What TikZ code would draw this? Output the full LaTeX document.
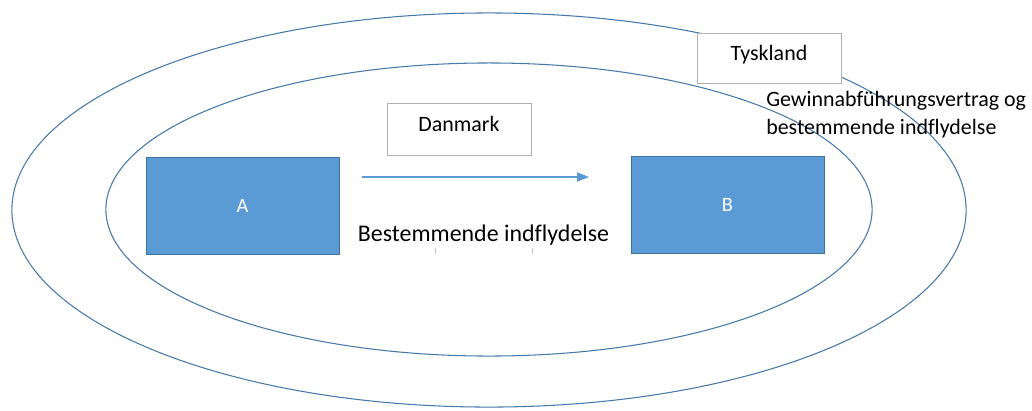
\documentclass[tikz,border=0pt]{standalone}
\usepackage{fontspec}
\setmainfont{Carlito}[Ligatures=NoCommon]
\usetikzlibrary{arrows.meta, positioning, shapes.geometric}
\definecolor{LandBlue}{RGB}{70,120,170}
\definecolor{FirmBlue}{RGB}{91,155,213}
\definecolor{FirmEdge}{RGB}{65,113,156}
\definecolor{TagGray}{RGB}{175,175,175}
\tikzset{
  land/.style={ellipse, draw=LandBlue, line width=0.75pt, inner sep=0pt},
  firm/.style={rectangle, draw=FirmEdge, fill=FirmBlue, line width=0.6pt,
               minimum width=4.825cm, minimum height=2.425cm,
               font=\fontsize{14.5}{17}\selectfont, text=white},
  tag/.style={rectangle, draw=TagGray, fill=white, line width=0.6pt,
              minimum width=3.6cm, minimum height=#1,
              text height=0.65em, text depth=0.35em,
              font=\fontsize{15.6}{19.9}\selectfont},
  txt/.style={font=\fontsize{15.6}{19.9}\selectfont, inner sep=0pt, align=left},
  arr/.style={-{Triangle[length=0.3cm, width=0.23cm]}, line width=1pt, color=#1},
}
\begin{document}
\begin{tikzpicture}[x=0.025cm, y=-0.025cm]
  \useasboundingbox (0,0) rectangle (1032,410);

  % lande
  \node[land, minimum width=23.85cm, minimum height=9.85cm] (tyskland) at (489,210) {};
  \node[land, minimum width=19.15cm, minimum height=7.325cm] (danmark) at (489,209.5) {};

  \node[tag=1.25cm] (tysktag) at (769,58) {Tyskland};
  \node[tag=1.3cm] (dktag) at (459,129) {Danmark};

  % selskaber
  \node[firm] (a) at (242.5,205.5) {A};
  \node[firm, right=7.275cm of a, yshift=0.025cm] (b) {B};

  \coordinate (pilfra) at (362,177);
  \coordinate (piltil) at (589,177);
  \draw[arr=FirmBlue] (pilfra) -- (piltil);

  \node[txt, font=\fontsize{17}{20}\selectfont] (best) at (483.5,235.5) {Bestemmende indflydelse};
  \draw[TagGray!70, line width=0.5pt] (435,248) -- (435,254) (532,248) -- (532,254);

  \node[txt, anchor=north west] (gewinn) at (766,91)
       {Gewinnabführungsvertrag og\\bestemmende indflydelse};
\end{tikzpicture}
\end{document}
